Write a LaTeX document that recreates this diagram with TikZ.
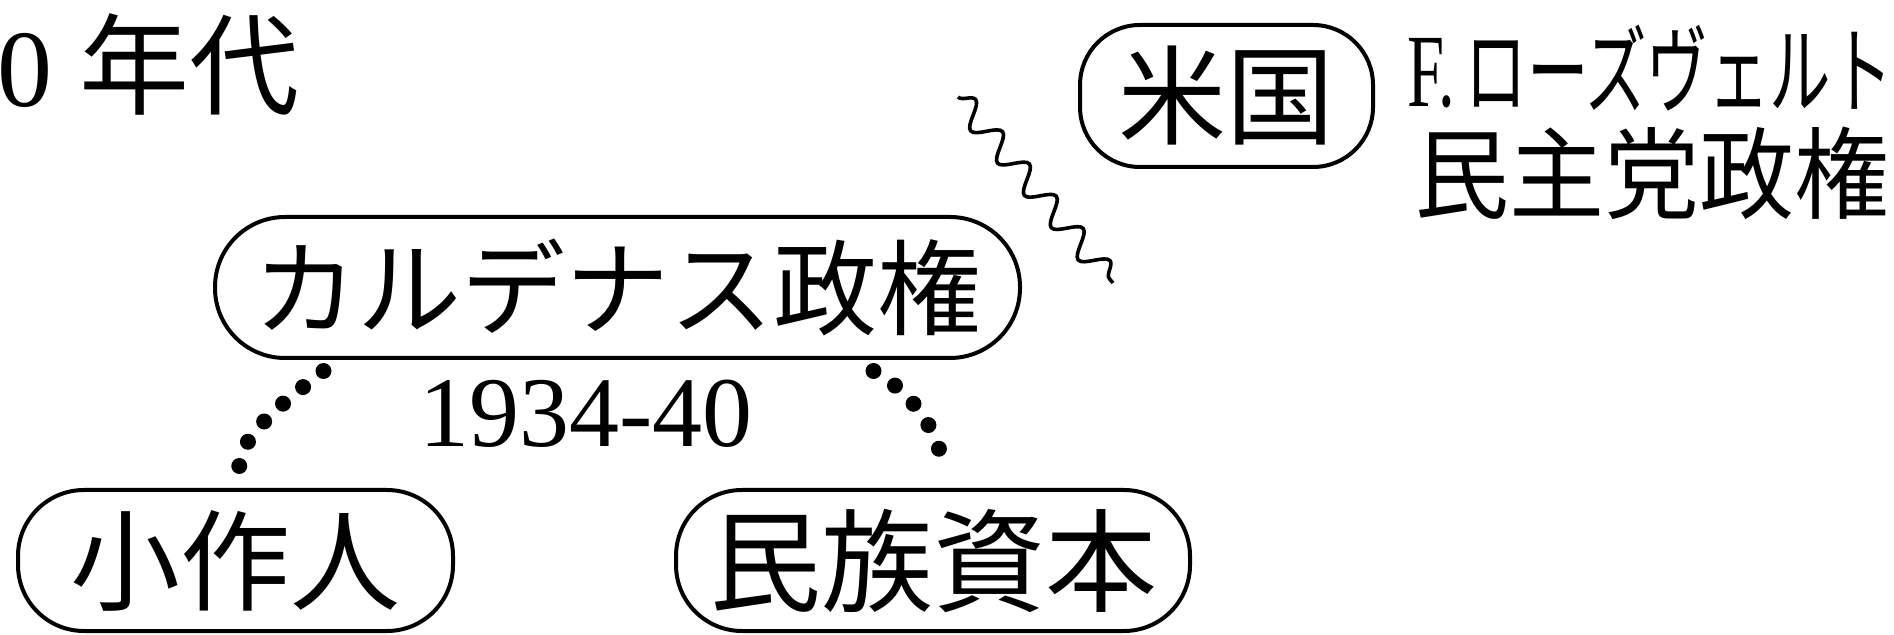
\documentclass[tikz,border=0pt]{standalone}
\usepackage{graphicx}
\usepackage{fontspec}
\setmainfont{Liberation Serif}
\newfontfamily\cjk{Noto Sans CJK JP}
\usetikzlibrary{decorations.pathmorphing}
\begin{document}
\begin{tikzpicture}[x=0.5pt,y=-0.5pt,
  pill/.style={rectangle, rounded corners=33pt, draw, line width=2pt, inner sep=0pt},
  plain/.style={inner sep=0pt},
  dotline/.style={line width=8pt, line cap=round, dash pattern=on 0pt off 13pt},
  wave/.style={line width=1.8pt, decorate, decoration={snake, segment length=21pt, amplitude=6pt}}]
\useasboundingbox (0,0) rectangle (1894,635);

% title
\node[anchor=base west, plain, font=\fontsize{55pt}{60pt}\selectfont] (decade) at (-3,107) {0 {\cjk 年代}};

% main nodes
\node[pill, rounded corners=35pt, minimum width=402.5pt, minimum height=70.5pt, font=\cjk\fontsize{52pt}{60pt}\selectfont] (kar) at (617.5,287.5) {カルデナス政権};
\node[pill, minimum width=217.5pt, minimum height=70.5pt, font=\cjk\fontsize{55pt}{60pt}\selectfont] (kosaku) at (235.5,560.5) {小作人};
\node[pill, minimum width=257pt, minimum height=70.5pt, font=\cjk\fontsize{56pt}{60pt}\selectfont] (minzoku) at (933,560.5) {民族資本};
\node[pill, rounded corners=30pt, minimum width=146.5pt, minimum height=71pt, font=\cjk\fontsize{54pt}{60pt}\selectfont] (bei) at (1226.5,96) {米国};

% labels
\node[anchor=base, plain, font=\fontsize{50pt}{55pt}\selectfont] (years) at (586,447) {1934-40};
\node[anchor=east, plain, font=\cjk\fontsize{48pt}{54pt}\selectfont] (fdr) at (1893,68) {\scalebox{0.64}[1]{{\rmfamily\fontsize{52pt}{54pt}\selectfont F.}\,ローズヴェルト}};
\node[anchor=east, plain, font=\cjk\fontsize{50pt}{56pt}\selectfont] (party) at (1890,173) {\scalebox{0.95}[1]{民主党政権}};

% connectors
\draw[dotline] ([xshift=-147pt,yshift=-5.5pt]kar.south) .. controls +(-38,30) and +(-8,-35) .. ([xshift=2.25pt,yshift=6.5pt]kosaku.north);
\draw[dotline] ([xshift=128pt,yshift=-5.5pt]kar.south) .. controls +(40,22) and +(-3,-40) .. ([xshift=5.5pt,yshift=7pt]minzoku.north);

% wavy line
\coordinate (w1) at (958,97);
\coordinate (w2) at (1113,283);
\draw[wave] (w1) -- (w2);
\end{tikzpicture}
\end{document}
